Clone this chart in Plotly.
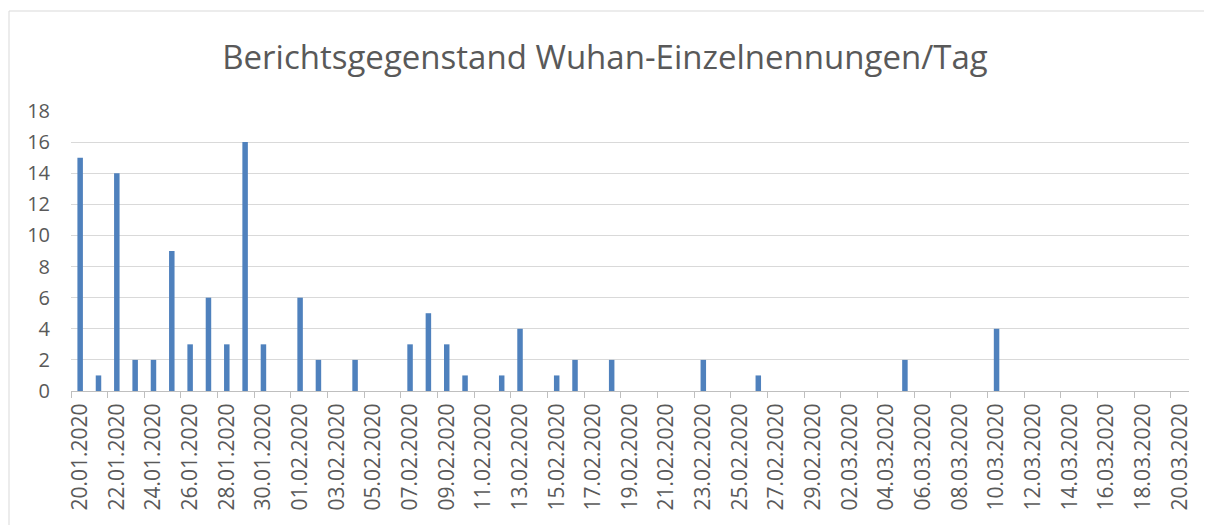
import pandas as pd
import plotly.graph_objects as go

# Categories: every day from 20.01.2020 to 20.03.2020
days = [d.strftime("%d.%m.%Y") for d in pd.date_range("2020-01-20", "2020-03-20", freq="D")]

# Mentions per day
mentions = [
    15, 1, 14, 2, 2, 9, 3, 6, 3, 16,   # 20.01 - 29.01
    3, 0, 6, 2, 0, 2, 0, 0, 3, 5,      # 30.01 - 08.02
    3, 1, 0, 1, 4, 0, 1, 2, 0, 2,      # 09.02 - 18.02
    0, 0, 0, 0, 2, 0, 0, 1, 0, 0,      # 19.02 - 28.02
    0, 0, 0, 0, 0, 2, 0, 0, 0, 0,      # 29.02 - 09.03
    4, 0, 0, 0, 0, 0, 0, 0, 0, 0,      # 10.03 - 19.03
    0,                                 # 20.03
]

title_text = "Berichtsgegenstand Wuhan-Einzelnennungen/Tag"
y_ticks = [0, 2, 4, 6, 8, 10, 12, 14, 16, 18]

W, H = 1204, 517          # page body margin of 8px offsets the figure
OFF = 8
PL, PR, PT, PB = 71 - OFF, 1189 - OFF, 111 - OFF, 391 - OFF

fig = go.Figure()
fig.add_trace(go.Bar(
    x=days, y=mentions,
    marker=dict(color="#4F81BD", line=dict(width=0)),
    width=0.3,
    showlegend=False,
))

fig.update_layout(
    width=W, height=H,
    margin=dict(l=PL, r=W - PR, t=PT, b=H - PB),
    paper_bgcolor="white", plot_bgcolor="white",
    font=dict(family="Open Sans, Liberation Sans, sans-serif", color="#595959"),
    title=dict(text=title_text, x=(605 - OFF) / W, xanchor="center",
               y=1 - (57 - OFF) / H, yanchor="middle",
               xref="container", yref="container",
               font=dict(size=33, color="#595959", family="Open Sans, sans-serif")),
)

fig.update_xaxes(
    type="category",
    categoryorder="array", categoryarray=days,
    tickmode="linear", tick0=0, dtick=2,
    tickson="boundaries",
    ticks="outside", ticklen=6, tickcolor="#BFBFBF", tickwidth=1,
    tickangle=-90,
    tickfont=dict(size=21, color="#595959"),
    ticklabelstandoff=3,
    showline=True, linecolor="#BFBFBF", linewidth=1,
    showgrid=False,
    range=[-0.5, len(days) - 0.5],
)

fig.update_yaxes(
    range=[0, 18],
    tickmode="array", tickvals=y_ticks,
    tickfont=dict(size=20, color="#595959"),
    showgrid=True, gridcolor="#D9D9D9", gridwidth=1,
    zeroline=False, showline=False, ticks="",
    ticklabelstandoff=20,
)

# Chart area border
pw, ph = PR - PL, PB - PT
fig.add_shape(type="rect", xref="paper", yref="paper",
              x0=(9 - 71) / pw, x1=(1206 - 71) / pw,
              y0=(391 - 540) / ph, y1=(391 - 11) / ph,
              line=dict(color="#D9D9D9", width=1), fillcolor="rgba(0,0,0,0)", layer="below")

fig.write_html("out.html")
